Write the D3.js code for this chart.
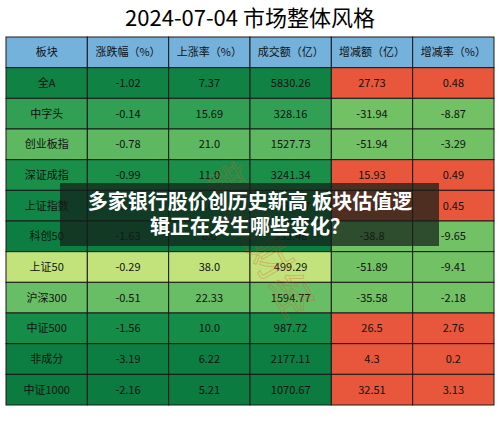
<!DOCTYPE html>
<html><head><meta charset="utf-8">
<script src="https://cdn.jsdelivr.net/npm/d3@7"></script>
<style>body{margin:0;background:#fff}svg{display:block}</style>
</head><body>
<svg width="500" height="431"></svg>
<script>
const headers = ['板块', '涨跌幅（%）', '上涨率（%）', '成交额（亿）', '增减额（亿）', '增减率（%）'];
const sectors = ['全A', '中字头', '创业板指', '深证成指', '上证指数', '科创50', '上证50', '沪深300', '中证500', '非成分', '中证1000'];
const change = ['-1.02', '-0.14', '-0.78', '-0.99', '-0.83', '-1.63', '-0.29', '-0.51', '-1.56', '-3.19', '-2.16'];
const upRate = ['7.37', '15.69', '21.0', '11.0', '8.02', '6.0', '38.0', '22.33', '10.0', '6.22', '5.21'];
const turnover = ['5830.26', '328.16', '1527.73', '3241.34', '2588.07', '333.48', '499.29', '1594.77', '987.72', '2177.11', '1070.67'];
const diffAmt = ['27.73', '-31.94', '-51.94', '15.93', '11.51', '-38.8', '-51.89', '-35.58', '26.5', '4.3', '32.51'];
const diffRate = ['0.48', '-8.87', '-3.29', '0.49', '0.45', '-9.65', '-9.41', '-2.18', '2.76', '0.2', '3.13'];

const svg = d3.select('svg');
const font = '"Noto Sans CJK SC", sans-serif';
const x = d3.scaleBand().domain(d3.range(6)).range([6, 494]);
const y = d3.scaleBand().domain(d3.range(12)).range([37, 405]);
const green = d3.scaleLinear().domain([5, 10, 16, 22, 38])
  .range(['#0b7a40', '#158c48', '#32a055', '#66bd63', '#c2e37c']);

svg.append('text').attr('x', 250).attr('y', 26).attr('text-anchor', 'middle')
  .attr('font-family', font).attr('font-size', 22).text('2024-07-04  市场整体风格');

const rows = [headers].concat(sectors.map((s, i) => [s, change[i], upRate[i], turnover[i], diffAmt[i], diffRate[i]]));
rows.forEach((r, ri) => {
  r.forEach((v, ci) => {
    let fill;
    if (ri === 0) fill = '#74b2dc';
    else if (ci < 4) fill = green(+upRate[ri - 1]);
    else fill = +v > 0 ? '#e8573c' : '#72c265';
    svg.append('rect').attr('x', x(ci)).attr('y', y(ri)).attr('width', x.bandwidth()).attr('height', y.bandwidth())
      .attr('fill', fill).attr('stroke', '#1a1a1a').attr('stroke-width', 1);
    svg.append('text').attr('x', x(ci) + x.bandwidth() / 2).attr('y', y(ri) + y.bandwidth() / 2 + 4)
      .attr('text-anchor', 'middle').attr('font-family', font).attr('font-size', 11).attr('fill', '#111')
      .text(v);
  });
});

// watermark
svg.append('text').attr('transform', 'translate(205,175) rotate(60)').attr('font-family', font)
  .attr('font-size', 42).attr('fill', 'none').attr('stroke', 'rgba(220,90,40,0.35)').attr('stroke-width', 1)
  .text('新浪财经');

// overlay headline
svg.append('rect').attr('x', 60).attr('y', 183).attr('width', 379).attr('height', 63).attr('fill', 'rgba(20,30,25,0.72)');
[['多家银行股价创历史新高 板块估值逻', 209], ['辑正在发生哪些变化？', 234]].forEach(([t, ty]) => {
  svg.append('text').attr('x', 250).attr('y', ty).attr('text-anchor', 'middle').attr('font-family', font)
    .attr('font-weight', 'bold').attr('font-size', 20).attr('fill', '#fff').text(t);
});
</script>
</body></html>
